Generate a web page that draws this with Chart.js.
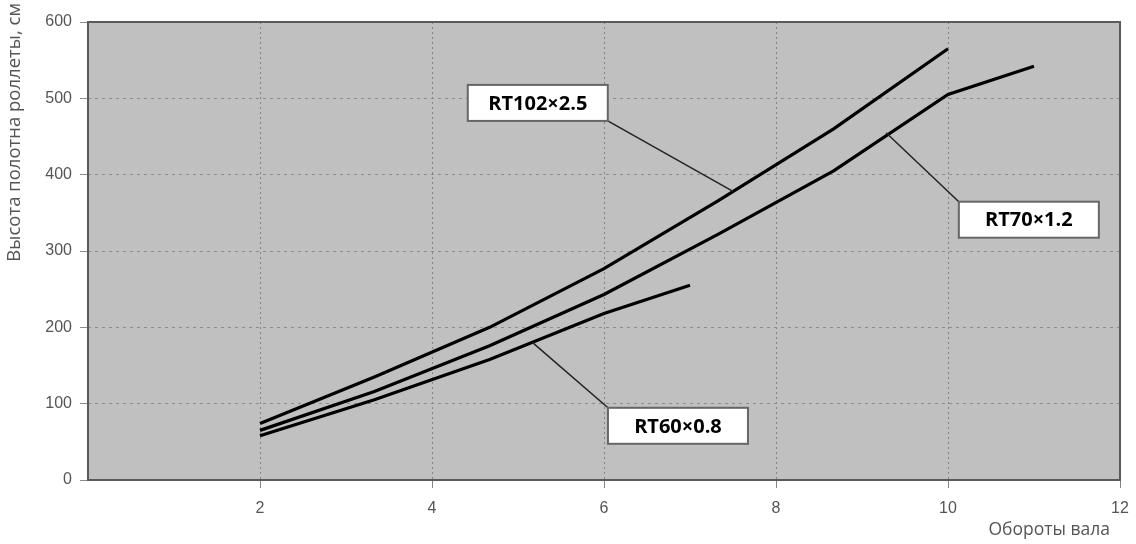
<!DOCTYPE html>
<html lang="ru">
<head>
    <meta charset="UTF-8">
    <title>Обороты вала</title>
    <script src="https://cdn.jsdelivr.net/npm/chart.js"></script>
    <style>
        html, body { margin: 0; padding: 0; background: #fff; }
        #wrap { width: 1136px; height: 544px; }
    </style>
</head>
<body>
    <div id="wrap"><canvas id="rollChart" width="1136" height="544"></canvas></div>

    <script>
        // revolutions of the shaft (x) and curtain height, cm (y)
        const turnsRT102 = [2, 3.33, 4.67, 6, 7.33, 8.67, 10];
        const heightRT102 = [74, 135, 200, 277, 366, 460, 565];

        const turnsRT70 = [2, 3.33, 4.67, 6, 7.33, 8.67, 10, 11];
        const heightRT70 = [65, 116, 176, 243, 322, 405, 505, 542];

        const turnsRT60 = [2, 3.33, 4.67, 6, 7];
        const heightRT60 = [58, 105, 158, 218, 255];

        const xTicks = [2, 4, 6, 8, 10, 12];
        const yTicks = [0, 100, 200, 300, 400, 500, 600];

        const yTitle = 'Высота полотна роллеты, см';
        const xTitle = 'Обороты вала';

        // callout labels: text, point on curve, box centre (data units)
        const calloutText = ['RT102×2.5', 'RT70×1.2', 'RT60×0.8'];
        const calloutAnchor = [[7.5, 378], [9.28, 455], [5.17, 180]];
        const calloutBox = [[5.23, 494], [10.94, 341], [6.86, 71]];

        const toPoints = (xs, ys) => xs.map((x, i) => ({ x: x, y: ys[i] }));

        const plotBg = {
            id: 'plotBg',
            beforeDraw(chart) {
                const { ctx, chartArea: a } = chart;
                ctx.save();
                ctx.fillStyle = '#c0c0c0';
                ctx.fillRect(a.left, a.top, a.right - a.left, a.bottom - a.top);
                ctx.restore();
            },
            afterDraw(chart) {
                const { ctx, chartArea: a } = chart;
                ctx.save();
                ctx.strokeStyle = '#5a5a5a';
                ctx.lineWidth = 2;
                ctx.strokeRect(a.left, a.top, a.right - a.left, a.bottom - a.top);

                ctx.fillStyle = '#555';
                ctx.font = '17.5px "Open Sans", sans-serif';
                ctx.textBaseline = 'middle';
                // x title sits under the right end of the axis
                ctx.textAlign = 'right';
                ctx.fillText(xTitle, a.right - 10, 530);

                // rotated y title, starting near the top edge of the page
                ctx.font = '18.5px "Open Sans", sans-serif';
                ctx.translate(15, 3);
                ctx.rotate(-Math.PI / 2);
                ctx.textAlign = 'right';
                ctx.fillText(yTitle, 0, 0);
                ctx.restore();
            }
        };

        const callouts = {
            id: 'callouts',
            afterDatasetsDraw(chart) {
                const ctx = chart.ctx;
                const xs = chart.scales.x, ys = chart.scales.y;
                ctx.save();
                ctx.font = 'bold 20px "Open Sans", sans-serif';
                calloutText.forEach((txt, i) => {
                    const ax = xs.getPixelForValue(calloutAnchor[i][0]);
                    const ay = ys.getPixelForValue(calloutAnchor[i][1]);
                    const cx = xs.getPixelForValue(calloutBox[i][0]);
                    const cy = ys.getPixelForValue(calloutBox[i][1]);
                    const w = 140, h = 36;
                    const left = cx - w / 2, top = cy - h / 2;
                    // leader line goes to the nearest box corner
                    const bx = ax > cx ? left + w : left;
                    const by = ay > cy ? top + h : top;
                    ctx.strokeStyle = '#222';
                    ctx.lineWidth = 1.5;
                    ctx.beginPath();
                    ctx.moveTo(ax, ay);
                    ctx.lineTo(bx, by);
                    ctx.stroke();

                    ctx.fillStyle = '#fff';
                    ctx.fillRect(left, top, w, h);
                    ctx.strokeStyle = '#666';
                    ctx.lineWidth = 2;
                    ctx.strokeRect(left, top, w, h);

                    ctx.fillStyle = '#000';
                    ctx.textAlign = 'center';
                    ctx.textBaseline = 'middle';
                    ctx.fillText(txt, cx, cy + 1);
                });
                ctx.restore();
            }
        };

        const lineStyle = {
            borderColor: '#000',
            borderWidth: 3.2,
            pointRadius: 0,
            tension: 0,
            fill: false
        };

        new Chart(document.getElementById('rollChart'), {
            type: 'line',
            data: {
                datasets: [
                    Object.assign({ label: 'RT102×2.5', data: toPoints(turnsRT102, heightRT102) }, lineStyle),
                    Object.assign({ label: 'RT70×1.2', data: toPoints(turnsRT70, heightRT70) }, lineStyle),
                    Object.assign({ label: 'RT60×0.8', data: toPoints(turnsRT60, heightRT60) }, lineStyle)
                ]
            },
            options: {
                responsive: false,
                animation: false,
                layout: { padding: { top: 22, right: 16, left: 0, bottom: 2 } },
                plugins: {
                    legend: { display: false },
                    tooltip: { enabled: false }
                },
                scales: {
                    x: {
                        type: 'linear',
                        min: 0,
                        max: 12,
                        afterBuildTicks: s => { s.ticks = xTicks.map(v => ({ value: v })); },
                        ticks: {
                            color: '#555',
                            font: { family: 'Arial, sans-serif', size: 16 },
                            padding: 11
                        },
                        grid: { color: '#858585', lineWidth: 1, tickLength: 8 },
                        border: { display: false, dash: [2, 3] },
                        afterFit: s => { s.height = 62; s.paddingLeft = 0; s.paddingRight = 0; }
                    },
                    y: {
                        min: 0,
                        max: 600,
                        afterBuildTicks: s => { s.ticks = yTicks.map(v => ({ value: v })); },
                        ticks: {
                            color: '#555',
                            font: { family: 'Arial, sans-serif', size: 16 },
                            padding: 8
                        },
                        grid: { color: '#8c8c8c', lineWidth: 1, tickLength: 8 },
                        border: { display: false, dash: [3, 4] },
                        afterFit: s => { s.width = 88; s.paddingTop = 0; s.paddingBottom = 0; }
                    }
                }
            },
            plugins: [plotBg, callouts]
        });
    </script>
</body>
</html>
